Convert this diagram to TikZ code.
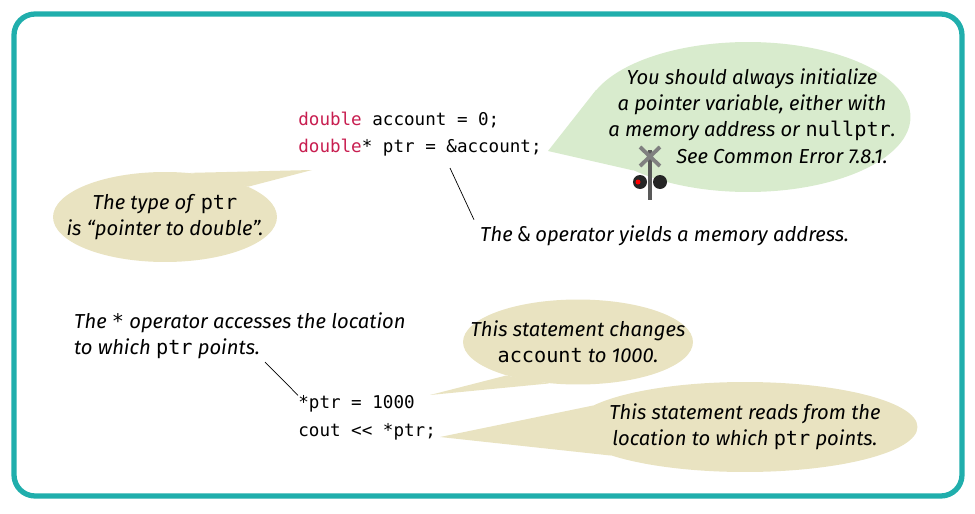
\documentclass[tikz,border=0pt]{standalone}
\usepackage{fontspec}
\setmainfont{Fira Sans}
\setmonofont{DejaVu Sans Mono}
\usetikzlibrary{shapes.geometric,positioning}
\definecolor{frame}{RGB}{32,174,172}
\definecolor{tan}{RGB}{233,227,193}
\definecolor{sage}{RGB}{216,235,205}
\definecolor{kw}{RGB}{200,30,80}
\newcommand{\mono}[1]{\textup{\texttt{#1}}}
\tikzset{
  code/.style={anchor=west,font=\ttfamily\fontsize{10}{12}\selectfont,inner sep=0pt},
  note/.style={align=center,font=\itshape\fontsize{11.5}{15}\selectfont},
  bubble/.style={ellipse,fill=#1,inner sep=0pt}
}
\begin{document}
\begin{tikzpicture}[x=0.02cm,y=-0.02cm]
\useasboundingbox (0,0) rectangle (975,514);
\draw[frame,line width=3pt,rounded corners=12pt] (14,14) rectangle (962,496);

% code
\node[code] (c1) at (298,120) {\textcolor{kw}{double} account = 0;};
\node[code] (c2) at (298,148) {\textcolor{kw}{double}* ptr = \&account;};
\node[code] (c3) at (298,404) {*ptr = 1000};
\node[code] (c4) at (298,432) {cout << *ptr;};

% bubbles
\node[bubble=tan,minimum width=4.48cm,minimum height=1.8cm] (b1) at (165,217) {};
\coordinate (t1) at (312,170);
\fill[tan] (t1) -- (b1.60) -- (b1.20) -- cycle;
\node[note] at (b1) {The type of \mono{ptr}\\is “pointer to double”.};

\node[bubble=sage,minimum width=6.5cm,minimum height=3cm] (b2) at (748,117) {};
\coordinate (t2) at (548,151);
\fill[sage] (t2) -- (b2.170) -- (b2.205) -- cycle;
\node[note] at (752,116) {You should always initialize\\a pointer variable, either with\\a memory address or \mono{nullptr}.\\\hspace*{1.2cm}See Common Error 7.8.1.};

\node[bubble=tan,minimum width=4.6cm,minimum height=1.7cm] (b3) at (578,342) {};
\coordinate (t3) at (430,395);
\fill[tan] (t3) -- (b3.205) -- (b3.235) -- cycle;
\node[note] at (b3) {This statement changes\\\mono{account} to 1000.};

\node[bubble=tan,minimum width=6.9cm,minimum height=1.8cm] (b4) at (745,427) {};
\coordinate (t4) at (440,437);
\fill[tan] (t4) -- (b4.172) -- (b4.192) -- cycle;
\node[note] at (b4) {This statement reads from the\\location to which \mono{ptr} points.};

% crossing sign
\draw[gray!70!black,line width=2pt] (650,150) -- (650,200);
\draw[gray,line width=2.2pt] (640,147) -- (660,166) (640,166) -- (660,147);
\fill[black!85] (640,182) circle (7) (660,182) circle (7);
\fill[red] (638,182) circle (2.5);

% labels
\node[note,anchor=west] (amp) at (474,236) {The \mono{\&} operator yields a memory address.};
\draw (450,168) -- (amp.north west);
\node[note,align=left,anchor=west] (star) at (68,336) {The \mono{*} operator accesses the location\\to which \mono{ptr} points.};
\coordinate (s1) at (265,362);
\draw (s1) -- (c3.north west);
\end{tikzpicture}
\end{document}
